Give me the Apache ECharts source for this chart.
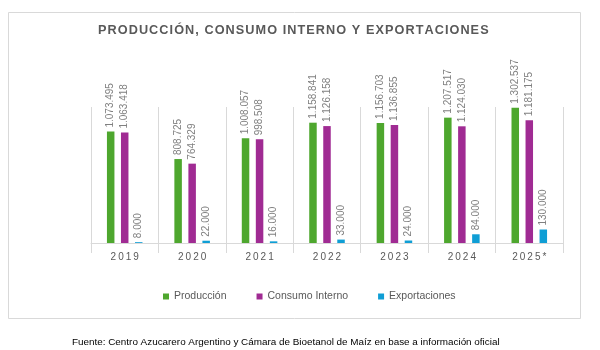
<!DOCTYPE html>
<html>
<head>
<meta charset="utf-8">
<script src="https://cdn.jsdelivr.net/npm/echarts@6/dist/echarts.min.js"></script>
<style>
  html, body { margin: 0; padding: 0; background: #fff; }
  #chart { width: 600px; height: 350px; }
</style>
</head>
<body>
<div id="chart"></div>
<script>
var years = ['2019', '2020', '2021', '2022', '2023', '2024', '2025*'];
var produccion = [1073495, 808725, 1008057, 1158841, 1156703, 1207517, 1302537];
var consumo = [1063418, 764329, 998508, 1126158, 1136855, 1124030, 1181175];
var exportaciones = [8000, 22000, 16000, 33000, 24000, 84000, 130000];

var titleText = 'PRODUCCIÓN, CONSUMO INTERNO Y EXPORTACIONES';
var sourceText = 'Fuente: Centro Azucarero Argentino y Cámara de Bioetanol de Maíz en base a información oficial';

function spaced(s, sp) {
    return s.split('').join(sp);
}

function fmt(v) {
    return String(v).replace(/\B(?=(\d{3})+(?!\d))/g, '.');
}

var chart = echarts.init(document.getElementById('chart'));

var barLabel = {
    show: true,
    position: 'top',
    rotate: 90,
    align: 'left',
    verticalAlign: 'middle',
    distance: 4,
    color: '#808080',
    fontSize: 10,
    fontFamily: 'Liberation Sans',
    formatter: function (p) { return fmt(p.value); }
};

function bar(name, data, color) {
    return {
        name: name,
        type: 'bar',
        data: data,
        barWidth: 7.5,
        barGap: '87%',
        itemStyle: { color: color },
        label: barLabel,
        emphasis: { disabled: true }
    };
}

chart.setOption({
    animation: false,
    graphic: [{
        type: 'rect',
        z: -10,
        shape: { x: 8.5, y: 12.5, width: 572, height: 306 },
        style: { fill: '#fff', stroke: '#d9d9d9', lineWidth: 1 }
    }],
    title: [{
        text: spaced(titleText, '\u200A'),
        left: 98,
        top: 24,
        padding: 0,
        textStyle: { color: '#595959', fontSize: 12.7, fontWeight: 'bold', fontFamily: 'Liberation Sans' }
    }, {
        text: sourceText,
        left: 72,
        top: 337,
        padding: 0,
        textStyle: { color: '#000', fontSize: 9.9, fontWeight: 'normal', fontFamily: 'Liberation Sans' }
    }],
    legend: {
        left: 163,
        top: 291,
        padding: 0,
        itemWidth: 6,
        itemHeight: 6,
        itemGap: 30,
        icon: 'rect',
        textStyle: { color: '#595959', fontSize: 10.5, fontFamily: 'Liberation Sans' },
        data: ['Producción', 'Consumo Interno', 'Exportaciones']
    },
    grid: { left: 91, right: 37, top: 107, bottom: 107, containLabel: false },
    xAxis: {
        type: 'category',
        data: years,
        axisLine: { lineStyle: { color: '#d9d9d9' } },
        axisTick: { show: true, length: 10, lineStyle: { color: '#d9d9d9' } },
        splitLine: { show: true, lineStyle: { color: '#d9d9d9' } },
        axisLabel: {
            color: '#595959',
            fontSize: 10,
            fontFamily: 'Liberation Sans',
            margin: 9,
            formatter: function (v) { return spaced(v, '\u2009'); }
        }
    },
    yAxis: {
        type: 'value',
        min: 0,
        max: 1310000,
        show: false,
        splitLine: { show: false }
    },
    series: [
        bar('Producción', produccion, '#4ea72e'),
        bar('Consumo Interno', consumo, '#a02b93'),
        bar('Exportaciones', exportaciones, '#0f9ed5')
    ]
});
</script>
</body>
</html>
